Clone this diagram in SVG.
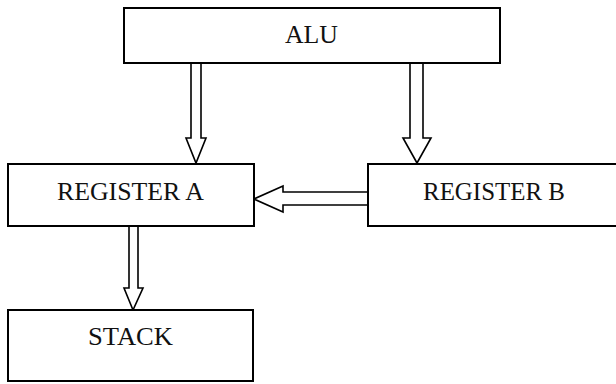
<svg xmlns="http://www.w3.org/2000/svg" width="616" height="384" viewBox="0 0 616 384">
<style>
.box{fill:#fff;stroke:#000;stroke-width:2}
.lbl{font-family:"Liberation Serif",serif;font-size:25px;fill:#111;text-anchor:middle}
.arr{fill:#fff;stroke:#000;stroke-width:1.6;stroke-linejoin:miter}
</style>
<rect width="616" height="384" fill="#fff"/>
<g id="connectors">
<polygon class="arr" points="191,63 201,63 201,138 206,138 196,163 186,138 191,138"/>
<polygon class="arr" points="410,63 423,63 423,138 431,138 417,163 403,138 410,138"/>
<polygon class="arr" points="368,192 283,192 283,186 254,199 283,212 283,205 368,205"/>
<polygon class="arr" points="129,226 138,226 138,288 143,288 133,310 124,288 129,288"/>
</g>
<g id="alu"><rect class="box" x="124" y="8" width="376" height="55"/><text class="lbl" x="311.5" y="43" textLength="53" lengthAdjust="spacingAndGlyphs">ALU</text></g>
<g id="registerA"><rect class="box" x="8" y="164" width="246" height="62"/><text class="lbl" x="130.5" y="200" textLength="147" lengthAdjust="spacingAndGlyphs">REGISTER A</text></g>
<g id="registerB"><rect class="box" x="368" y="164" width="260" height="62"/><text class="lbl" x="494" y="200" textLength="142" lengthAdjust="spacingAndGlyphs">REGISTER B</text></g>
<g id="stack"><rect class="box" x="8" y="310" width="245" height="71"/><text class="lbl" x="130.5" y="345" textLength="85" lengthAdjust="spacingAndGlyphs">STACK</text></g>
</svg>
